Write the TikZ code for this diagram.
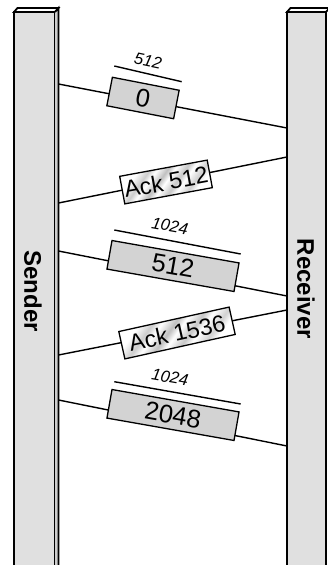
\documentclass[tikz,border=0pt]{standalone}
\usepackage{fontspec}
\setmainfont{Liberation Sans}
\definecolor{barface}{HTML}{E0E0E0}
\definecolor{barside}{HTML}{CDCDCD}
\definecolor{pktgray}{HTML}{D3D3D3}
\pgfdeclarehorizontalshading{ackgloss}{100bp}{color(0bp)=(white); color(30bp)=(white); color(36bp)=(black!20); color(40bp)=(white); color(46bp)=(black!25); color(50bp)=(white); color(56bp)=(black!22); color(60bp)=(white); color(66bp)=(black!18); color(70bp)=(white); color(100bp)=(white)}
\begin{document}
\begin{tikzpicture}[x=1pt,y=-1pt,
  bar/.style={draw=black,line width=1.8pt,fill=barface},
  wire/.style={line width=1.4pt},
  pkt/.style={draw,line width=1.3pt,fill=pktgray,inner sep=0pt,minimum height=29pt,font=\fontsize{25.5}{25.5}\selectfont},
  ack/.style={draw,line width=1.3pt,shade,shading=ackgloss,shading angle=-35,inner sep=0pt,minimum height=28pt,font=\fontsize{23.5}{23.5}\selectfont},
  seglen/.style={inner sep=0pt,font=\itshape\fontsize{16.5}{16.5}\selectfont},
  host/.style={rotate=-90,font=\bfseries\fontsize{24}{24}\selectfont}]
\useasboundingbox (0,0) rectangle (327,565);
% sender and receiver
\draw[bar] (14,12) rectangle (55,570);
\draw[bar,fill=white] (14,12) -- (17.5,8) -- (58.5,8) -- (55,12) -- cycle;
\draw[bar,fill=barside] (55,12) -- (58.5,8) -- (58.5,570) -- (55,570);
\draw[bar] (287,12) rectangle (326,570);
\draw[bar,fill=white] (287,12) -- (290.5,8) -- (329.5,8) -- (326,12) -- cycle;
\node[host] (snd) at (33,291) {Sender};
\node[host] (rcv) at (306,289) {Receiver};
% ends of the segments
\coordinate (s1) at (58.5,84);
\coordinate (r1) at (287,128);
\coordinate (r2) at (287,157);
\coordinate (s2) at (58.5,203);
\coordinate (s3) at (58.5,251);
\coordinate (r3) at (287,296);
\coordinate (r4) at (287,310);
\coordinate (s4) at (58.5,355);
\coordinate (s5) at (58.5,400);
\coordinate (r5) at (287,446);
\draw[wire] (s1) -- (r1);
\draw[wire] (r2) -- (s2);
\draw[wire] (s3) -- (r3);
\draw[wire] (r4) -- (s4);
\draw[wire] (s5) -- (r5);
% segments
\node[pkt,minimum width=68pt,rotate=-11] (p1) at (143,98) {0};
\node[pkt,minimum width=129pt,rotate=-10] (p2) at (173,266) {512};
\node[pkt,minimum width=129pt,rotate=-10] (p3) at (173,415) {2048};
\node[ack,minimum width=89pt,rotate=10.5] (a1) at (166,182) {Ack 512};
\node[ack,minimum width=113pt,rotate=12.5] (a2) at (177,333) {Ack 1536};
% lengths
\coordinate (o1a) at (114.3,66);
\coordinate (o1b) at (181.7,81.7);
\coordinate (o2a) at (114.3,230);
\coordinate (o2b) at (240.7,254);
\coordinate (o3a) at (114.3,381.7);
\coordinate (o3b) at (240.7,404);
\draw[wire] (o1a) -- (o1b);
\draw[wire] (o2a) -- (o2b);
\draw[wire] (o3a) -- (o3b);
\node[seglen,rotate=-12] (z1) at (148,61) {512};
\node[seglen,rotate=-10.5] (z2) at (170,226) {1024};
\node[seglen,rotate=-10] (z3) at (170,377) {1024};
\end{tikzpicture}
\end{document}
